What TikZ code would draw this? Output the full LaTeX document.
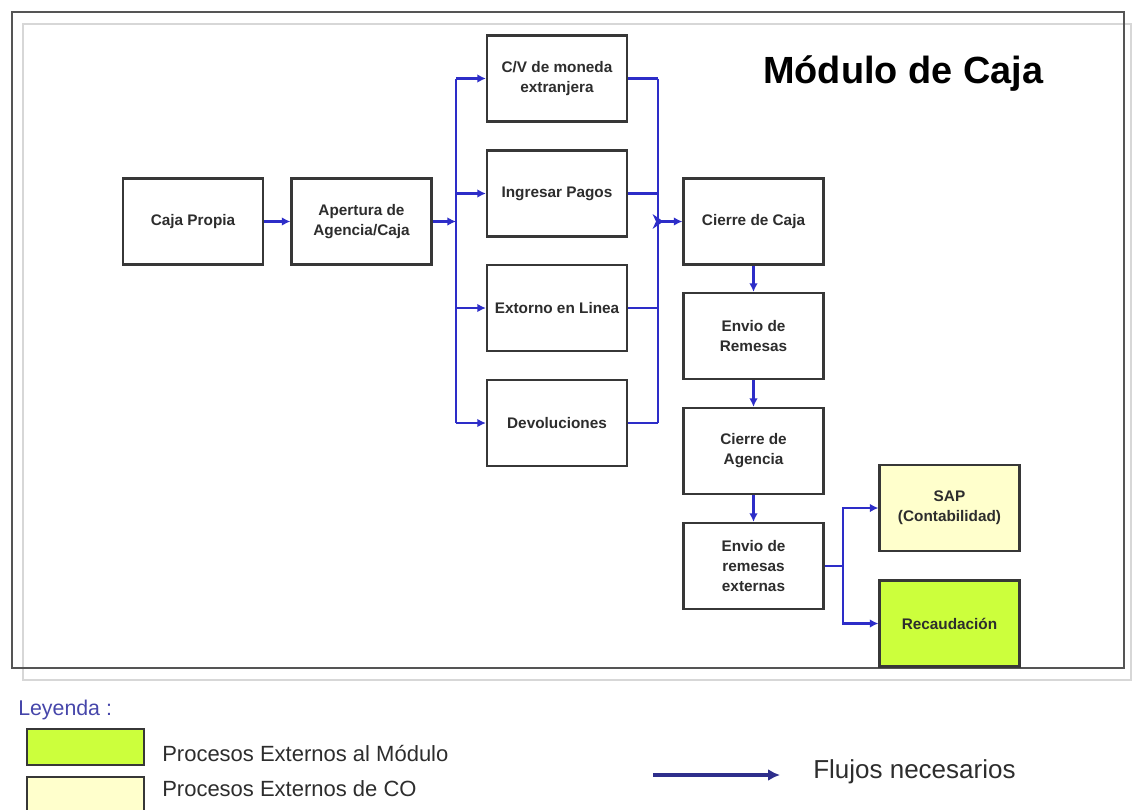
\documentclass[tikz,border=0pt]{standalone}
\usepackage{fontspec}
\setmainfont{Liberation Sans}
\usepackage{xcolor}
\usetikzlibrary{arrows.meta}

\definecolor{boxgray}{RGB}{55,55,55}
\definecolor{txtgray}{RGB}{45,45,45}
\definecolor{flowblue}{RGB}{45,45,200}
\definecolor{legblue}{RGB}{46,46,140}
\definecolor{extgreen}{RGB}{204,255,60}
\definecolor{extyellow}{RGB}{255,255,204}

\tikzset{
  procbox/.style={draw=boxgray, line width=1.6pt, fill=white, minimum width=105pt, minimum height=64.5pt,
    align=center, text=txtgray, font=\fontsize{11.5}{15}\selectfont\bfseries, inner sep=2pt},
  flow/.style={draw=flowblue, line width=1.6pt},
  flowarrow/.style={flow, -{Latex[length=6.5pt,width=6.5pt]}},
  legbox/.style={draw=boxgray, line width=1.3pt, minimum width=87.75pt, minimum height=27pt},
  legtext/.style={anchor=base west, inner sep=0pt, text=txtgray, font=\fontsize{16.5}{18}\selectfont}
}

\begin{document}
\begin{tikzpicture}[x=0.75pt,y=0.75pt,yscale=-1,xscale=1]
        \useasboundingbox (0,0) rectangle (1132,810);

        %Shape: Frame
        \draw [color={rgb, 255:red, 215; green, 215; blue, 215 }, line width=1.4pt] (23,24) rectangle (1131,680);
        \draw [color={rgb, 255:red, 85; green, 85; blue, 85 }, line width=1.8pt] (12,12) rectangle (1124,668);

        % Text Node
        \draw (763,83) node [anchor=base west][inner sep=0pt] (titulo) {\fontsize{28.4}{32}\selectfont\bfseries Módulo de Caja};

        %Shape: Rectangle
        \draw (193,221.5) node [procbox] (cajaprop) {Caja Propia};
        \draw (361.5,221.5) node [procbox] (apertura) {Apertura de\\Agencia/Caja};
        \draw (557,78.5) node [procbox] (cvmoneda) {C/V de moneda\\extranjera};
        \draw (557,193.5) node [procbox] (ingresar) {Ingresar Pagos};
        \draw (557,308) node [procbox] (extorno) {Extorno en Linea};
        \draw (557,423) node [procbox] (devol) {Devoluciones};
        \draw (753.5,221.5) node [procbox] (cierrecaja) {Cierre de Caja};
        \draw (753.5,336) node [procbox] (envrem) {Envio de\\Remesas};
        \draw (753.5,451) node [procbox] (cierreag) {Cierre de\\Agencia};
        \draw (753.5,566) node [procbox] (envext) {Envio de\\remesas\\externas};
        \draw (949.5,508) node [procbox, fill=extyellow] (sap) {SAP\\(Contabilidad)};
        \draw (949.5,623.5) node [procbox, fill=extgreen] (recaud) {Recaudación};

        %Bus Lines
        \coordinate (busL) at (456,221.5);
        \coordinate (busR) at (658,221.5);
        \coordinate (fork) at (843,566);
        \draw [flow] (cvmoneda.west -| busL) -- (devol.west -| busL);
        \draw [flow] (cvmoneda.east -| busR) -- (devol.east -| busR);

        %Straight Lines
        \draw [flowarrow] (cajaprop) -- (apertura);
        \draw [flowarrow] (apertura) -- (busL);
        \draw [flowarrow] (cvmoneda.west -| busL) -- (cvmoneda);
        \draw [flowarrow] (ingresar.west -| busL) -- (ingresar);
        \draw [flowarrow] (extorno.west -| busL) -- (extorno);
        \draw [flowarrow] (devol.west -| busL) -- (devol);
        \draw [flow] (cvmoneda) -- (cvmoneda.east -| busR);
        \draw [flow] (ingresar) -- (ingresar.east -| busR);
        \draw [flow] (extorno) -- (extorno.east -| busR);
        \draw [flow] (devol) -- (devol.east -| busR);
        \draw [flow, {Stealth[reversed,length=8pt,width=11pt,inset=2.5pt]}-{Latex[length=6.5pt,width=6.5pt]}] ([xshift=-4pt]busR) -- (cierrecaja);
        \draw [flowarrow] (cierrecaja) -- (envrem);
        \draw [flowarrow] (envrem) -- (cierreag);
        \draw [flowarrow] (cierreag) -- (envext);
        \draw [flow] (envext) -- (fork);
        \draw [flowarrow] (fork) |- (sap);
        \draw [flowarrow] (fork) |- (recaud);

        % Text Node
        \draw (18,715) node [anchor=base west][inner sep=0pt, text={rgb, 255:red, 70; green, 70; blue, 170 }, font=\fontsize{16}{18}\selectfont] (leyenda) {Leyenda :};

        %Legend
        \draw (85.5,747) node [legbox, fill=extgreen] (leggreen) {};
        \draw (85.5,795) node [legbox, fill=extyellow] (legyellow) {};
        \draw (162,761) node [legtext] (legtxtgreen) {Procesos Externos al Módulo};
        \draw (162,796) node [legtext] (legtxtyellow) {Procesos Externos de CO};
        \coordinate (legA) at (653,775);
        \coordinate (legB) at (780,775);
        \draw [draw=legblue, line width=2.6pt, -{Latex[length=9pt,width=9pt]}] (legA) -- (legB);
        \draw (813,778) node [legtext, font=\fontsize{19.5}{22}\selectfont] (legtxtflow) {Flujos necesarios};

\end{tikzpicture}
\end{document}
